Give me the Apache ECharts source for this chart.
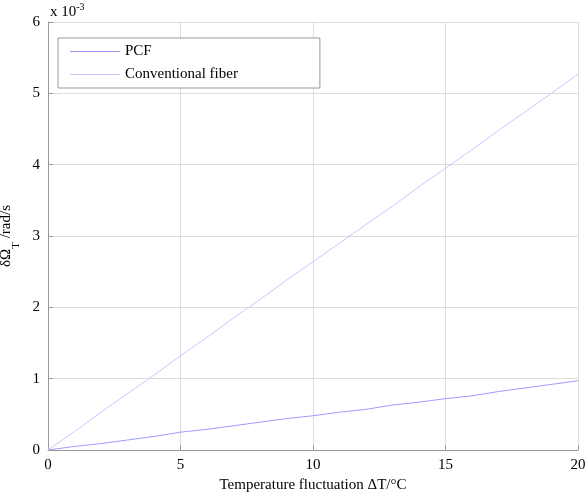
<!DOCTYPE html>
<html><head><meta charset="utf-8">
<script src="https://cdn.jsdelivr.net/npm/echarts@6/dist/echarts.min.js"></script>
<style>html,body{margin:0;background:#fff}#c{width:587px;height:496px}</style>
</head><body><div id="c"></div>
<script>
// values in units of 1e-3 rad/s
var temps = [0,1,2,3,4,5,6,7,8,9,10,11,12,13,14,15,16,17,18,19,20];
var pcf = [0,0.05,0.09,0.14,0.19,0.25,0.29,0.34,0.39,0.44,0.48,0.53,0.57,0.63,0.67,0.72,0.76,0.82,0.87,0.92,0.97];
var conv = [0,0.26,0.53,0.79,1.05,1.32,1.58,1.85,2.11,2.38,2.64,2.90,3.16,3.42,3.69,3.95,4.21,4.48,4.74,5.00,5.27];

var font = 'Liberation Serif';
var chart = echarts.init(document.getElementById('c'));
function pairs(ys){ return temps.map(function(t,i){ return [t, ys[i]]; }); }
chart.setOption({
  animation: false,
  grid: {left: 48, right: 9, top: 22, bottom: 46, containLabel: false, outerBoundsMode: 'none'},
  xAxis: {type: 'value', min: 0, max: 20, interval: 5,
    name: 'Temperature fluctuation ΔT/°C', nameLocation: 'middle', nameGap: 26,
    nameTextStyle: {fontFamily: font, fontSize: 15, color: '#000'},
    axisLine: {lineStyle: {color: '#999'}}, axisTick: {inside: true, lineStyle: {color: '#999'}},
    axisLabel: {fontFamily: font, fontSize: 15, color: '#000'},
    splitLine: {lineStyle: {color: '#ddd'}}},
  yAxis: {type: 'value', min: 0, max: 6, interval: 1,
    name: 'δΩ{s|T} /rad/s', nameLocation: 'middle', nameGap: 30,
    nameTextStyle: {fontFamily: font, fontSize: 15, color: '#000',
      rich: {s: {fontFamily: font, fontSize: 11, verticalAlign: 'bottom', padding: [0,0,-8,0]}}},
    axisLine: {show: true, lineStyle: {color: '#999'}}, axisTick: {inside: true, lineStyle: {color: '#999'}},
    axisLabel: {fontFamily: font, fontSize: 15, color: '#000'},
    splitLine: {lineStyle: {color: '#ddd'}}},
  legend: {left: 58, top: 38, orient: 'vertical', itemWidth: 50, itemHeight: 1, itemGap: 8,
    padding: [6, 82, 6, 12], backgroundColor: '#fff', borderColor: '#999', borderWidth: 1, borderRadius: 0,
    icon: 'rect', textStyle: {fontFamily: font, fontSize: 15, color: '#000'},
    data: ['PCF', 'Conventional fiber']},
  graphic: [{type: 'text', left: 50, top: 2,
    style: {text: 'x 10{s|-3}', fontFamily: font, fontSize: 15, fill: '#000',
      rich: {s: {fontFamily: font, fontSize: 10, verticalAlign: 'top', padding: [0,0,10,0]}}}}],
  series: [
    {name: 'PCF', type: 'line', showSymbol: false, data: pairs(pcf), lineStyle: {color: '#9c9cff', width: 1}, itemStyle: {color: '#9c9cff'}},
    {name: 'Conventional fiber', type: 'line', showSymbol: false, data: pairs(conv), lineStyle: {color: '#c8c8ff', width: 1}, itemStyle: {color: '#c8c8ff'}}
  ]
});
</script></body></html>
